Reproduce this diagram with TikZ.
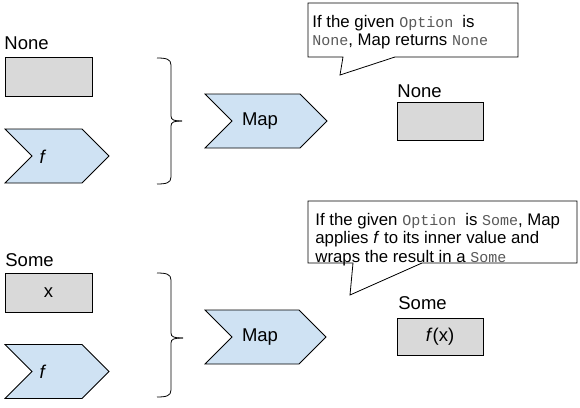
\documentclass[tikz,border=0pt]{standalone}
\usepackage{fontspec}
\setmainfont{Liberation Sans}
\newfontfamily\monofam{Liberation Mono}
\usetikzlibrary{shapes.symbols}
\definecolor{chevblue}{HTML}{CFE2F3}
\definecolor{boxgray}{HTML}{D9D9D9}
\definecolor{monogray}{HTML}{595959}
\newcommand\mn[1]{{\monofam\fontsize{15}{18.5}\selectfont\color{monogray}#1}}
\newcommand\drawbrace[4]{% #1 top y, #2 mid y, #3 bottom y, #4 tip x
  \draw[braceline] (157,#1) .. controls (166,#1) and (171,{#1+1}) .. (171,{#1+7})
     -- (171,{#2-5}) .. controls (171,{#2-1}) and (174,#2) .. (#4,#2);
  \draw[braceline] (#4,#2) .. controls (174,#2) and (171,{#2+1}) .. (171,{#2+5})
     -- (171,{#3-7}) .. controls (171,{#3-1}) and (166,#3) .. (157,#3);
}
\begin{document}
\begin{tikzpicture}[x=1pt,y=-1pt,line width=0.8pt,
  chevron/.style={signal, signal from=west, signal to=east, signal pointer angle=90,
    draw=black, fill=chevblue, minimum width=#1, minimum height=54pt, inner sep=0pt},
  graybox/.style={rectangle, draw=black, fill=boxgray, minimum width=87pt,
    minimum height=39pt, inner sep=0pt, font=\fontsize{18.5}{21}\selectfont},
  lbl/.style={inner sep=0pt, anchor=base west, font=\fontsize{18.5}{21}\selectfont},
  txt/.style={inner sep=0pt, font=\fontsize{18.5}{21}\selectfont},
  calltext/.style={inner sep=0pt, anchor=north west, align=left,
    font=\fontsize{16.8}{18.5}\selectfont},
  callout/.style={draw=black, fill=white},
  braceline/.style={draw=black, line width=0.8pt}]
\useasboundingbox (0,0) rectangle (580,407);

% ---- None case ----
\node[lbl] (noneL) at (4,49) {None};
\node[graybox] (noneBox) at (48.5,76.5) {};
\node[chevron=104pt] (fTop) at (57,156) {};
\node[txt] (fTopT) at (43,157) {\textit{f}};
\drawbrace{58}{121}{184}{182}
\node[chevron=122pt] (mapTop) at (266,121) {};
\node[txt] (mapTopT) at (260,121) {Map};
\node[lbl] (noneR) at (397,97) {None};
\node[graybox, minimum width=86pt, minimum height=38pt] (noneRBox) at (440,121) {};
\draw[callout] (308,3) -- (518,3) -- (518,57) -- (395,57) -- (340,75) -- (343,57) -- (308,57) -- cycle;
\node[calltext] (c1) at (312,14) {\strut If the given \mn{Option }is\\\mn{None}, Map returns \mn{None}};

% ---- Some case ----
\node[lbl] (someL) at (5,266) {Some};
\node[graybox] (xBox) at (48.5,292.5) {x};
\node[chevron=104pt] (fBot) at (57,371.5) {};
\node[txt] (fBotT) at (43,371.5) {\textit{f}};
\drawbrace{273}{338}{397}{183}
\node[chevron=121pt] (mapBot) at (265.5,337) {};
\node[txt] (mapBotT) at (260,337) {Map};
\node[lbl] (someR) at (398,309) {Some};
\node[graybox, minimum width=86pt, minimum height=37pt] (fxBox) at (440,336.5) {\textit{f}(x)};
\draw[callout] (308,201) -- (577,201) -- (577,263) -- (422,263) -- (350,295) -- (353,263) -- (308,263) -- cycle;
\node[calltext] (c2) at (315,212) {\strut If the given \mn{Option }is \mn{Some}, Map\\applies \textit{f} to its inner value and\\wraps the result in a \mn{Some}};
\end{tikzpicture}
\end{document}
